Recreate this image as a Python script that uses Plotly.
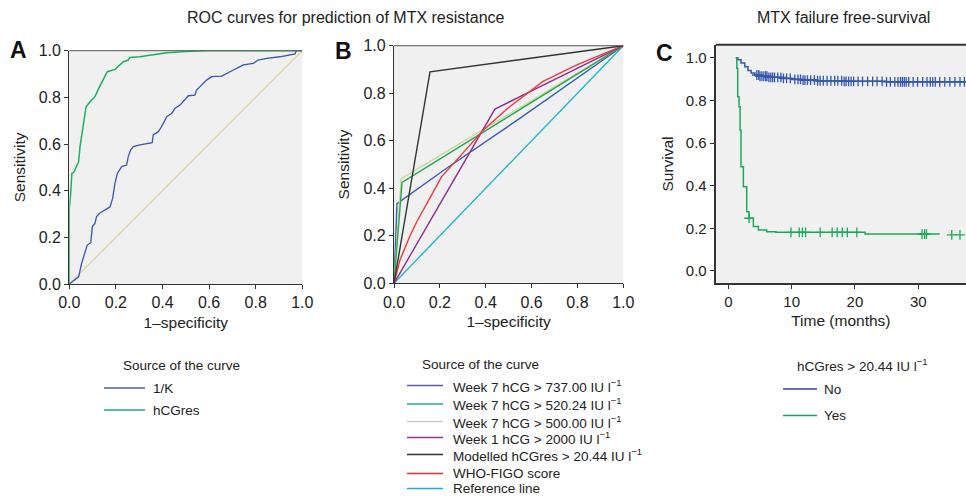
import numpy as np
import plotly.graph_objects as go

# ---------------- DATA ----------------
# Panel A: ROC curves
a_k_fpr = [0, 0.04, 0.053, 0.067, 0.077, 0.092, 0.099, 0.11, 0.117, 0.13, 0.153, 0.175, 0.186, 0.196,
           0.206, 0.225, 0.246, 0.253, 0.263, 0.275, 0.303, 0.332, 0.356, 0.36, 0.382, 0.396, 0.418,
           0.439, 0.454, 0.475, 0.496, 0.511, 0.539, 0.546, 0.561, 0.589, 0.611, 0.654, 0.69, 0.718,
           0.747, 0.79, 0.811, 0.847, 0.904, 0.969, 0.973, 1.0]
a_k_tpr = [0, 0.031, 0.089, 0.131, 0.167, 0.177, 0.246, 0.26, 0.289, 0.303, 0.317, 0.331, 0.367, 0.431,
           0.474, 0.503, 0.51, 0.546, 0.574, 0.589, 0.596, 0.603, 0.606, 0.639, 0.653, 0.674, 0.717,
           0.731, 0.753, 0.767, 0.789, 0.807, 0.81, 0.831, 0.846, 0.874, 0.889, 0.891, 0.91, 0.924,
           0.939, 0.946, 0.96, 0.967, 0.974, 0.986, 1.0, 1.0]
a_h_fpr = [0, 0, 0.006, 0.011, 0.02, 0.029, 0.04, 0.046, 0.054, 0.063, 0.072, 0.089, 0.11, 0.13, 0.146,
           0.163, 0.196, 0.232, 0.253, 0.26, 0.303, 0.375, 0.418, 0.5, 0.59, 1.0]
a_h_tpr = [0, 0.324, 0.39, 0.474, 0.48, 0.503, 0.524, 0.589, 0.646, 0.71, 0.76, 0.781, 0.803, 0.846,
           0.874, 0.91, 0.92, 0.953, 0.96, 0.971, 0.974, 0.986, 0.991, 0.997, 1.0, 1.0]
a_ref = [0, 1]
a_names = ["1/K", "hCGres"]

# Panel B: ROC curves of thresholds
b_w7_737_fpr = [0, 0.013, 0.22, 0.55, 1.0]
b_w7_737_tpr = [0, 0.335, 0.478, 0.695, 1.0]
b_w7_520_fpr = [0, 0.035, 1.0]
b_w7_520_tpr = [0, 0.425, 1.0]
b_w7_500_fpr = [0, 0.031, 1.0]
b_w7_500_tpr = [0, 0.44, 1.0]
b_w1_2000_fpr = [0, 0.44, 0.58, 1.0]
b_w1_2000_tpr = [0, 0.733, 0.8, 1.0]
b_model_fpr = [0, 0.157, 1.0]
b_model_tpr = [0, 0.89, 1.0]
b_figo_fpr = [0, 0.026, 0.07, 0.1, 0.164, 0.208, 0.3, 0.39, 0.5, 0.58, 0.65, 0.8, 1.0]
b_figo_tpr = [0, 0.098, 0.2, 0.26, 0.372, 0.449, 0.548, 0.645, 0.74, 0.8, 0.85, 0.92, 1.0]
b_ref = [0, 1]
b_names = ["Week 7 hCG > 737.00 IU l<sup>−1</sup>",
           "Week 7 hCG > 520.24 IU l<sup>−1</sup>",
           "Week 7 hCG > 500.00 IU l<sup>−1</sup>",
           "Week 1 hCG > 2000 IU l<sup>−1</sup>",
           "Modelled hCGres > 20.44 IU l<sup>−1</sup>",
           "WHO-FIGO score",
           "Reference line"]

# Panel C: Kaplan-Meier
c_no_t = [1.17, 1.5, 2.0, 2.6, 3.1, 3.6, 4.2, 5.0, 6.3, 8.4, 10.0, 11.6, 14.0, 18.0, 25.0, 37.6]
c_no_s = [1.0, 0.99, 0.975, 0.958, 0.94, 0.928, 0.919, 0.913, 0.908, 0.903, 0.898, 0.895, 0.892,
          0.889, 0.887, 0.887]
c_no_cens = [4.5, 4.8, 5.0, 5.3, 5.6, 5.9, 6.1, 6.4, 6.7, 7.0, 7.3, 7.8, 8.3, 8.7, 9.2, 9.8, 10.5,
             11.0, 11.4, 11.8, 12.1, 12.5, 13.0, 13.6, 14.1, 14.5, 15.0, 15.6, 16.2, 16.8, 17.3, 17.9,
             18.3, 18.6, 19.0, 19.4, 19.8, 20.5, 21.2, 22.0, 22.8, 23.5, 24.3, 25.0, 25.6, 26.3, 26.8,
             27.2, 27.5, 27.8, 28.1, 28.5, 29.2, 29.9, 30.7, 31.4, 31.9, 32.3, 32.7, 33.4, 34.2, 35.0,
             35.8, 36.6, 37.3]
c_yes_t = [1.2, 1.33, 1.48, 1.69, 1.85, 2.0, 2.37, 2.9, 3.27, 3.95, 4.74, 6.06, 7.5, 21.6, 33.4]
c_yes_s = [1.0, 0.95, 0.817, 0.77, 0.66, 0.489, 0.395, 0.278, 0.247, 0.208, 0.192, 0.184, 0.181,
           0.173, 0.173]
c_yes_cens = [3.27, 9.9, 11.2, 11.7, 12.2, 14.5, 16.4, 17.2, 18.0, 18.8, 20.3, 30.6, 31.0, 31.3]
c_yes_cens_late = [35.3, 36.6]
c_yes_late_s = 0.169
c_names = ["No", "Yes"]

# ---------------- STYLE ----------------
W, H = 966, 496
FONT = "Liberation Sans, Arial, Helvetica, sans-serif"
TXT = "#222222"
AX = "#333333"
BG = "#f0f0f0"

col_a = ["#3a56ae", "#1cb05e", "#dccf9e"]
col_b = ["#3b5cb5", "#27a852", "#c9d79c", "#8e2f8e", "#333333", "#ee3a3f", "#22b8c8"]
col_c = ["#3557ad", "#1aaa5a"]


def px(x):
    return x / W


def py(y):
    return 1 - y / H


fig = go.Figure()

# Panel A
fig.add_trace(go.Scatter(x=a_ref, y=a_ref, mode="lines", line=dict(color=col_a[2], width=1.2),
                         xaxis="x", yaxis="y", showlegend=False, cliponaxis=False))
fig.add_trace(go.Scatter(x=a_k_fpr, y=a_k_tpr, mode="lines", name=a_names[0],
                         line=dict(color=col_a[0], width=1.3), xaxis="x", yaxis="y",
                         showlegend=False, cliponaxis=False))
fig.add_trace(go.Scatter(x=a_h_fpr, y=a_h_tpr, mode="lines", name=a_names[1],
                         line=dict(color=col_a[1], width=1.5), xaxis="x", yaxis="y",
                         showlegend=False, cliponaxis=False))

# Panel B
b_series = [(b_w7_737_fpr, b_w7_737_tpr), (b_w7_520_fpr, b_w7_520_tpr), (b_w7_500_fpr, b_w7_500_tpr),
            (b_w1_2000_fpr, b_w1_2000_tpr), (b_model_fpr, b_model_tpr), (b_figo_fpr, b_figo_tpr),
            (b_ref, b_ref)]
draw_order = [6, 0, 2, 1, 3, 5, 4]
for i in draw_order:
    xs, ys = b_series[i]
    fig.add_trace(go.Scatter(x=xs, y=ys, mode="lines", name=b_names[i],
                             line=dict(color=col_b[i], width=1.4), xaxis="x2", yaxis="y2",
                             showlegend=False, cliponaxis=False))


# Panel C
def step_at(ts, ss, t):
    idx = np.searchsorted(np.array(ts), np.array(t), side="right") - 1
    idx = np.clip(idx, 0, len(ss) - 1)
    return list(np.array(ss)[idx])


fig.add_trace(go.Scatter(x=c_no_t, y=c_no_s, mode="lines", line_shape="hv", name=c_names[0],
                         line=dict(color=col_c[0], width=1.5), xaxis="x3", yaxis="y3",
                         showlegend=False))
fig.add_trace(go.Scatter(x=c_no_cens, y=step_at(c_no_t, c_no_s, c_no_cens), mode="markers",
                         marker=dict(symbol="cross-thin", size=7, line=dict(color=col_c[0], width=1.3)),
                         xaxis="x3", yaxis="y3", showlegend=False))
fig.add_trace(go.Scatter(x=c_yes_t, y=c_yes_s, mode="lines", line_shape="hv", name=c_names[1],
                         line=dict(color=col_c[1], width=1.5), xaxis="x3", yaxis="y3",
                         showlegend=False))
fig.add_trace(go.Scatter(x=c_yes_cens + c_yes_cens_late,
                         y=step_at(c_yes_t, c_yes_s, c_yes_cens) + [c_yes_late_s] * len(c_yes_cens_late),
                         mode="markers",
                         marker=dict(symbol="cross-thin", size=7, line=dict(color=col_c[1], width=1.3)),
                         xaxis="x3", yaxis="y3", showlegend=False))

# ---------------- AXES ----------------
tick_font = dict(family=FONT, size=16, color=TXT)
title_font = dict(family=FONT, size=15.5, color=TXT)


def roc_axis(domain, title, standoff):
    return dict(domain=domain, range=[0, 1], tickvals=[0, 0.2, 0.4, 0.6, 0.8, 1.0], tickformat=".1f",
                ticks="outside", ticklen=4, tickwidth=1, tickcolor=AX, showline=True, linecolor=AX,
                linewidth=1.3, showgrid=False, zeroline=False, tickfont=tick_font,
                title=dict(text=title, font=title_font, standoff=standoff))


fig.update_layout(
    xaxis=roc_axis([px(69.3), px(302.3)], "1–specificity", 6),
    yaxis={**roc_axis([py(284), py(50.7)], "Sensitivity", 9), "anchor": "x"},
    xaxis2={**roc_axis([px(394), px(623.3)], "1–specificity", 6), "anchor": "y2"},
    yaxis2={**roc_axis([py(283.3), py(45.7)], "Sensitivity", 9), "anchor": "x2"},
    xaxis3=dict(domain=[px(715.7), 1.0], range=[-2.0, 37.55], tickvals=[0, 10, 20, 30],
                ticks="outside", ticklen=4, tickwidth=1, tickcolor=AX, showline=True, linecolor=AX,
                linewidth=2, showgrid=False, zeroline=False, anchor="y3",
                tickfont=dict(family=FONT, size=15, color=TXT),
                title=dict(text="Time (months)", font=title_font, standoff=6)),
    yaxis3=dict(domain=[py(283.3), py(44.7)], range=[-0.058, 1.061],
                tickvals=[0, 0.2, 0.4, 0.6, 0.8, 1.0], tickformat=".1f",
                ticks="outside", ticklen=4, tickwidth=1, tickcolor=AX, showline=True, linecolor=AX,
                linewidth=2, showgrid=False, zeroline=False, anchor="x3",
                tickfont=dict(family=FONT, size=15, color=TXT),
                title=dict(text="Survival", font=title_font, standoff=8)),
)

# frame tops
shapes = [
    dict(type="line", xref="x domain", yref="y domain", x0=0, x1=1, y0=1, y1=1,
         line=dict(color="#555555", width=1)),
    dict(type="line", xref="x2 domain", yref="y2 domain", x0=0, x1=1, y0=1, y1=1,
         line=dict(color="#555555", width=1)),
    dict(type="line", xref="x3 domain", yref="y3 domain", x0=0, x1=1, y0=1, y1=1,
         line=dict(color=AX, width=2)),
]

annotations = [
    dict(text="ROC curves for prediction of MTX resistance", x=px(346), y=py(17)),
    dict(text="MTX failure free-survival", x=px(843), y=py(17)),
]
for a in annotations:
    a.update(xref="paper", yref="paper", showarrow=False, xanchor="center", yanchor="middle",
             font=dict(family=FONT, size=16, color=TXT))
for lab, x, y in [("A", 18, 50), ("B", 343.5, 51), ("C", 664.5, 53)]:
    annotations.append(dict(text="<b>%s</b>" % lab, x=px(x), y=py(y), xref="paper", yref="paper",
                            showarrow=False, xanchor="center", yanchor="middle",
                            font=dict(family=FONT, size=23, color="#111111")))

# ---------------- LEGENDS (keys + labels) ----------------
LEG_FONT = dict(family=FONT, size=13.5, color=TXT)


def add_legend(title, title_x, title_y, names, colors, x0, x1, text_x, ys):
    annotations.append(dict(text=title, x=px(title_x), y=py(title_y), xref="paper", yref="paper",
                            showarrow=False, xanchor="left", yanchor="middle", font=LEG_FONT))
    for name, color, y in zip(names, colors, ys):
        shapes.append(dict(type="line", xref="paper", yref="paper", x0=px(x0), x1=px(x1),
                           y0=py(y), y1=py(y), line=dict(color=color, width=1.4)))
        annotations.append(dict(text=name, x=px(text_x), y=py(y), xref="paper", yref="paper",
                                showarrow=False, xanchor="left", yanchor="middle", font=LEG_FONT))


add_legend("Source of the curve", 120.5, 365, a_names, ["#4a5aa8", "#22a87a"], 104, 145, 151,
           [388, 410])
add_legend("Source of the curve", 419.5, 364, b_names,
           ["#5a5aa5", "#2aaa88", "#cccccc", "#a0309a", "#333333", "#e03030", "#20a8e0"],
           407, 443, 450.5, [385.5, 404, 421.5, 437.5, 454.5, 473.5, 488.5])
add_legend("hCGres > 20.44 IU l<sup>−1</sup>", 795, 365, c_names, ["#3a3aa0", "#1aa070"], 783, 817,
           822, [389, 415.5])

fig.update_layout(
    width=W, height=H, margin=dict(l=0, r=0, t=0, b=0, autoexpand=False),
    paper_bgcolor="white", plot_bgcolor=BG, showlegend=False,
    font=dict(family=FONT, color=TXT),
    shapes=shapes, annotations=annotations,
)

fig.write_html("out.html", config={"displayModeBar": False},
               post_script="document.body.style.margin='0';document.body.style.overflow='hidden';")
